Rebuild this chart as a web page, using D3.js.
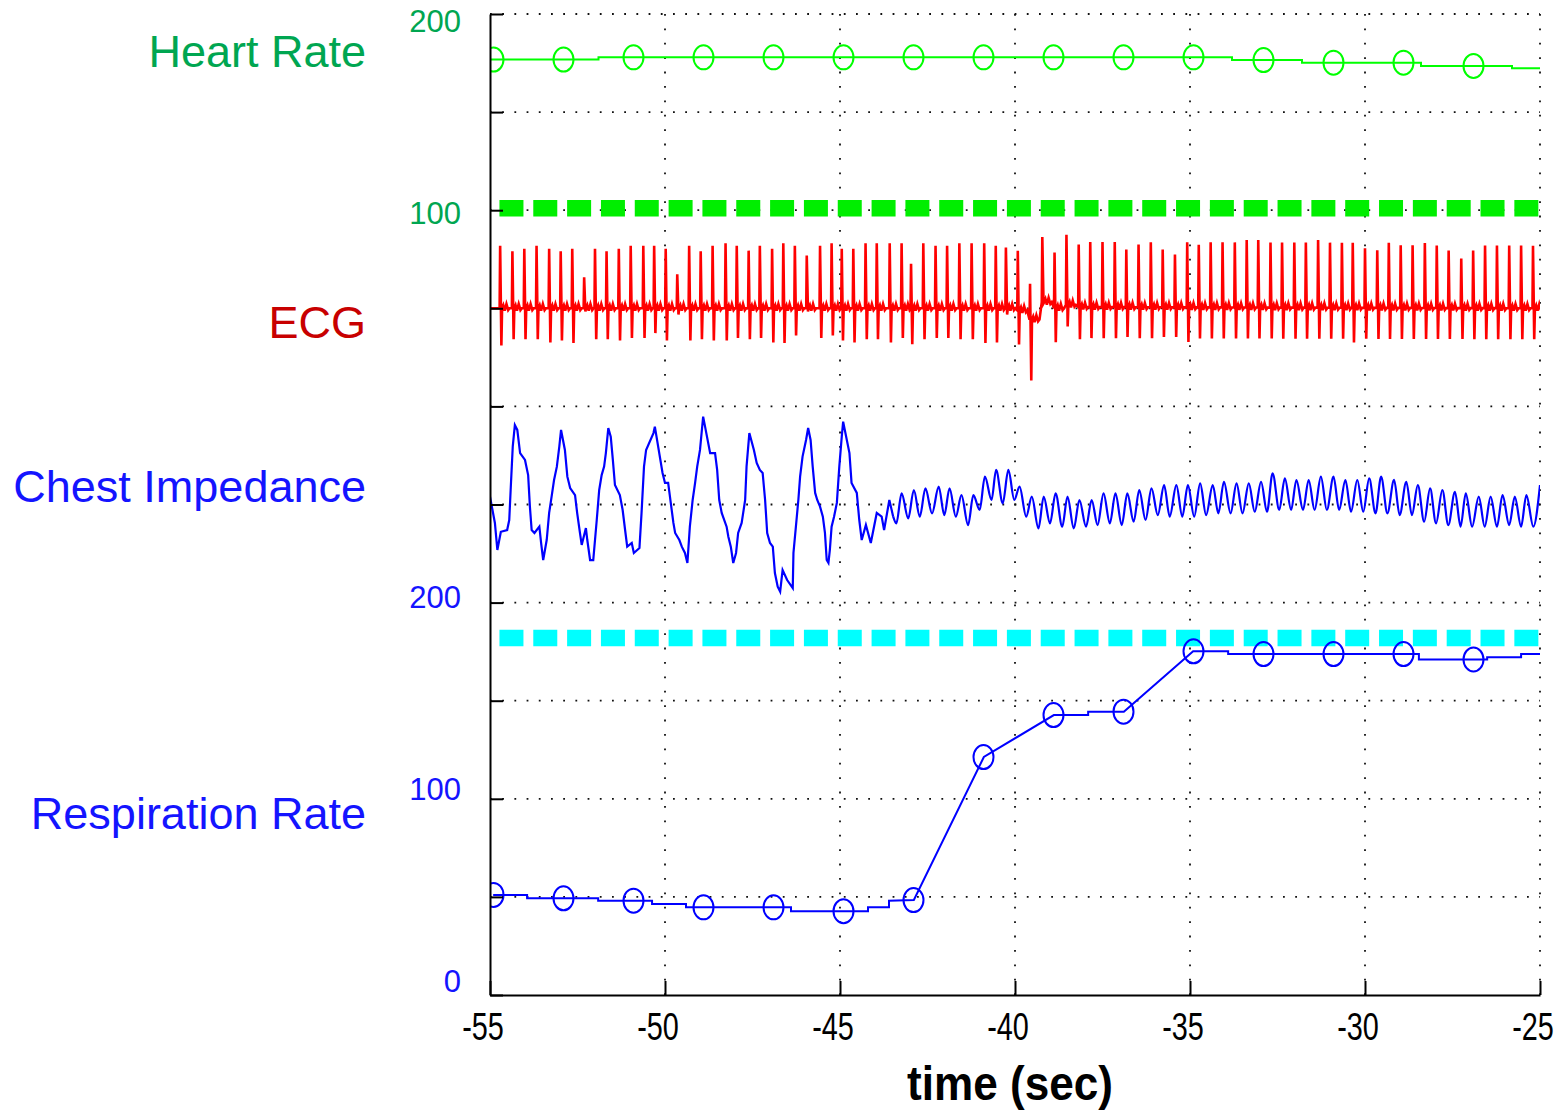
<!DOCTYPE html>
<html>
<head>
<meta charset="utf-8">
<script src="https://cdn.jsdelivr.net/npm/d3@7"></script>
<style>
  body { margin: 0; background: #fff; }
  text { font-family: "Liberation Sans", Arial, Helvetica, sans-serif; }
</style>
</head>
<body>
<div id="chart"></div>
<script>
// ---- data ----
var bandNames = ['Heart Rate', 'ECG', 'Chest Impedance', 'Respiration Rate']
var timeTicks = [-55, -50, -45, -40, -35, -30, -25]
var hrTicks = [100, 200]
var rrTicks = [0, 100, 200]

// trend samples every 2 s (circles)
var sampleTimes = [-54.9, -52.9, -50.9, -48.9, -46.9, -44.9, -42.9, -40.9, -38.9, -36.9, -34.9, -32.9, -30.9, -28.9, -26.9]
var hrSamples = [176.8, 176.8, 177.9, 177.9, 177.9, 177.9, 177.9, 177.9, 177.9, 177.9, 177.9, 176.5, 175.2, 175.2, 173.5]
var rrSamples = [51.0, 49.3, 48.1, 44.7, 44.7, 42.7, 48.4, 121.3, 142.7, 144.4, 175.2, 173.8, 173.8, 173.8, 171.0]

// heart rate trace (steps)
var hrLineTimes = [-55, -51.9, -33.8, -31.8, -28.4, -25.8, -25]
var hrLineValues = [176.8, 177.9, 176.5, 175.2, 173.5, 172.3, 172.3]
var hrThreshold = 101

// respiration rate trace
var rrLineTimes = [-54.91, -53.94, -53.94, -51.91, -51.91, -50.37, -50.37, -49.40, -49.40, -46.40, -46.40, -44.20, -44.20, -43.60, -43.60, -42.89,
  -40.89, -38.89, -37.91, -37.91, -36.89, -34.91, -33.91, -33.91, -28.46, -28.46, -26.51, -26.51, -25.54, -25.54, -25.00]
var rrLineValues = [51.0, 51.0, 49.3, 49.3, 48.1, 48.1, 46.4, 46.4, 44.7, 44.7, 42.7, 42.7, 44.7, 44.7, 48.1, 48.4,
  121.3, 142.7, 142.7, 144.4, 144.4, 175.2, 175.2, 173.8, 173.8, 171.0, 171.0, 172.1, 172.1, 173.8, 173.8]
var rrThreshold = 182

// ECG: R-wave times (s), R and S amplitudes (mV)
var ecgBeatTimes = [
  -54.71, -54.36, -54.02, -53.67, -53.31, -52.98, -52.65, -52.31, -52.00, -51.67,
  -51.32, -50.98, -50.62, -50.31, -49.98, -49.65, -49.31, -48.98, -48.64, -48.27,
  -47.95, -47.61, -47.29, -46.94, -46.62, -46.29, -45.95, -45.57, -45.24, -44.95,
  -44.62, -44.27, -43.95, -43.58, -43.24, -42.97, -42.62, -42.27, -41.94, -41.59,
  -41.24, -40.88, -40.55, -40.26, -39.92, -39.57, -39.22, -38.87, -38.53, -38.18,
  -37.85, -37.50, -37.15, -36.82, -36.47, -36.12, -35.78, -35.43, -35.08, -34.75,
  -34.41, -34.07, -33.72, -33.38, -33.05, -32.70, -32.37, -32.02, -31.69, -31.34,
  -31.00, -30.66, -30.35, -30.00, -29.65, -29.32, -28.98, -28.64, -28.29, -27.95,
  -27.61, -27.25, -26.91, -26.57, -26.23, -25.88, -25.54, -25.20]
var ecgPeaks = [
  1.01, 0.92, 0.96, 1.01, 0.96, 0.92, 0.96, 0.50, 0.96, 0.92,
  0.96, 1.01, 1.01, 1.01, 0.96, 0.55, 1.01, 0.92, 1.01, 1.05,
  1.01, 0.93, 1.01, 0.96, 1.05, 1.01, 0.85, 1.01, 1.05, 0.96,
  0.96, 1.05, 1.05, 1.05, 1.05, 0.72, 1.05, 1.01, 1.01, 1.05,
  1.05, 1.05, 1.01, 0.98, 0.96, 0.58, 1.05, 0.90, 1.13, 1.01,
  1.05, 1.05, 1.05, 0.93, 1.01, 1.05, 0.93, 0.85, 1.05, 1.01,
  1.05, 1.05, 1.05, 1.09, 1.09, 1.05, 1.05, 1.05, 1.05, 1.09,
  1.05, 1.05, 1.05, 0.96, 0.93, 1.05, 1.01, 1.01, 1.05, 1.01,
  0.93, 0.80, 0.93, 1.01, 1.01, 1.01, 1.01, 1.01]
var ecgTroughs = [
  -0.60, -0.50, -0.50, -0.50, -0.55, -0.52, -0.56, -0.05, -0.50, -0.50,
  -0.52, -0.48, -0.48, -0.40, -0.52, -0.10, -0.52, -0.50, -0.52, -0.52,
  -0.48, -0.50, -0.48, -0.55, -0.56, -0.44, -0.05, -0.48, -0.44, -0.52,
  -0.55, -0.50, -0.50, -0.55, -0.48, -0.58, -0.50, -0.48, -0.48, -0.50,
  -0.50, -0.56, -0.55, -0.10, -0.55, -0.98, -0.02, -0.55, -0.35, -0.52,
  -0.50, -0.50, -0.50, -0.48, -0.50, -0.50, -0.48, -0.48, -0.56, -0.50,
  -0.50, -0.50, -0.50, -0.50, -0.50, -0.50, -0.50, -0.50, -0.50, -0.50,
  -0.50, -0.50, -0.56, -0.50, -0.50, -0.50, -0.50, -0.50, -0.50, -0.50,
  -0.50, -0.50, -0.50, -0.50, -0.50, -0.50, -0.50, -0.50]
// baseline wander (mV) around the artefact near -39.5 s
var ecgBaseTimes = [-55, -39.95, -39.75, -39.62, -39.45, -38.95, -38.88, -38.5, -38.3, -25]
var ecgBaseValues = [0, 0, -0.22, -0.3, 0.1, 0.1, 0, 0.06, 0.02, 0]

// chest impedance (arbitrary units around band centre)
var impTimes = [
  -55.00, -54.86, -54.79, -54.69, -54.51, -54.45, -54.41, -54.35, -54.29, -54.22, -54.14, -54.00, -53.91, -53.86, -53.81, -53.73,
  -53.59, -53.54, -53.48, -53.38, -53.31, -53.24, -53.17, -53.09, -53.02, -52.97, -52.86, -52.79, -52.71, -52.57, -52.51, -52.43,
  -52.38, -52.26, -52.22, -52.14, -52.05, -51.95, -51.88, -51.81, -51.74, -51.69, -51.62, -51.55, -51.49, -51.43, -51.29, -51.21,
  -51.14, -51.08, -50.95, -50.89, -50.73, -50.67, -50.60, -50.54, -50.33, -50.29, -50.07, -50.00, -49.91, -49.76, -49.71, -49.59,
  -49.52, -49.43, -49.36, -49.29, -49.21, -49.14, -49.08, -49.00, -48.91, -48.71, -48.57, -48.51, -48.45, -48.38, -48.24, -48.19,
  -48.12, -48.05, -47.97, -47.91, -47.81, -47.71, -47.67, -47.59, -47.46, -47.38, -47.29, -47.21, -47.14, -47.08, -47.00, -46.92,
  -46.86, -46.78, -46.71, -46.64, -46.51, -46.35, -46.33, -46.26, -46.19, -46.14, -46.07, -45.97, -45.91, -45.84, -45.78, -45.71,
  -45.65, -45.57, -45.49, -45.43, -45.38, -45.33, -45.29, -45.24, -45.17, -45.09, -45.02, -44.95, -44.91, -44.73, -44.67, -44.52,
  -44.45, -44.38, -44.26, -44.12, -43.95, -43.81, -43.74, -43.59, -43.48,
  -43.39, -43.24, -43.05, -42.89, -42.72, -42.56, -42.37, -42.18, -42.02, -41.87, -41.69, -41.53, -41.34, -41.19, -41.01, -40.86,
  -40.67, -40.54, -40.35, -40.19, -40.02, -39.87, -39.68, -39.52, -39.33, -39.18, -39.00, -38.84, -38.65, -38.50, -38.32, -38.16,
  -37.97, -37.81, -37.64, -37.47, -37.29, -37.13, -36.95, -36.79, -36.61, -36.45, -36.27, -36.10, -35.92, -35.74, -35.58, -35.39,
  -35.22, -35.06, -34.88, -34.71, -34.54, -34.35, -34.19, -34.03, -33.84, -33.67, -33.50, -33.32, -33.15, -32.97, -32.80, -32.64,
  -32.45, -32.29, -32.11, -31.96, -31.77, -31.61, -31.44, -31.26, -31.09, -30.90, -30.74, -30.56, -30.40, -30.22, -30.05, -29.88,
  -29.70, -29.54, -29.36, -29.17, -29.01, -28.82, -28.66, -28.49, -28.31, -28.14, -27.97, -27.79, -27.62, -27.43, -27.27, -27.12,
  -26.94, -26.75, -26.58, -26.41, -26.23, -26.07, -25.88, -25.72, -25.54, -25.39, -25.19, -25.00]
var impValues = [
  4.0, -9.4, -23.2, -13.9, -13.0, -7.9, 7.4, 29.5, 40.5, 38.0, 26.2, 22.7, 15.0, -1.1, -13.0, -14.5,
  -11.3, -19.6, -28.3, -18.1, -4.3, 4.0, 12.5, 19.3, 29.5, 38.0, 27.8, 14.2, 8.4, 4.8, -4.3, -14.5,
  -20.6, -12.0, -18.1, -28.3, -28.3, -7.9, 7.4, 15.0, 19.3, 26.2, 39.0, 34.6, 22.7, 9.9, 4.8, -2.8,
  -13.0, -21.5, -19.6, -24.7, -22.2, -4.3, 19.3, 27.8, 36.4, 39.7, 16.1, 11.0, 11.0, -9.4, -14.5, -18.1,
  -21.5, -24.7, -29.8, -11.3, 2.3, 11.0, 19.3, 27.8, 44.8, 26.2, 26.2, 17.6, 2.3, -4.3, -11.3, -16.4,
  -21.5, -29.8, -24.7, -14.5, -9.4, 2.3, 19.3, 36.4, 27.8, 21.2, 17.6, 16.1, 2.3, -14.5, -19.6, -21.5,
  -34.9, -41.9, -44.4, -33.4, -38.5, -42.6, -24.7, -11.3, 2.3, 14.2, 24.4, 32.9, 39.0, 32.9, 19.3, 5.9,
  2.3, -1.1, -6.2, -14.5, -28.3, -29.8, -23.2, -11.3, -6.2, 0.8, 19.3, 34.6, 42.2, 26.2, 11.0, 5.9,
  -7.9, -18.1, -10.4, -19.6, -4.3, -6.2, -13.0, 2.3, -6.2,
  -9.6, 5.7, -7.1, 7.4, -6.2, 8.2, -4.5, 9.1, -5.4, 8.2, -6.2, 4.8, -10.5, 4.8, -2.8, 14.2,
  2.3, 17.6, 0.6, 17.6, 2.3, 9.1, -6.2, 4.0, -12.2, 4.0, -9.6, 5.7, -11.3, 4.0, -12.2, 2.3,
  -11.3, 2.3, -10.5, 5.7, -9.6, 5.7, -10.5, 5.7, -8.8, 7.4, -7.9, 8.2, -5.4, 9.9, -6.2, 9.9,
  -6.2, 9.9, -6.2, 10.8, -5.4, 9.9, -4.5, 11.6, -4.5, 10.8, -4.5, 10.8, -3.7, 11.6, -3.7, 15.9,
  -2.8, 13.3, -2.8, 12.5, -2.8, 12.5, -2.8, 14.2, -2.8, 14.2, -2.8, 12.5, -3.7, 12.5, -3.7, 13.3,
  -4.5, 14.2, -4.5, 12.5, -5.4, 11.6, -5.4, 9.9, -8.8, 8.2, -9.6, 7.4, -10.5, 6.5, -11.3, 5.7,
  -11.3, 4.0, -11.3, 4.0, -11.3, 4.8, -10.5, 4.0, -11.3, 4.8, -11.3, 9.9]
var impFastStart = -43.48   // from here the trace is the fast cardiac ripple

// ---- layout ----
var W = 1559
var H = 1116
var GREEN = '#00ff00'
var GREEN_TEXT = '#00a651'
var BLUE = '#0000ff'
var BLUE_TEXT = '#1414ff'
var RED = '#ff0000'
var RED_TEXT = '#c80000'
var CYAN = '#00ffff'

var HR_OFFSET = 300   // heart rate band sits on top of the shared axis
var ECG_CENTER = 350
var ECG_GAIN = 31.6
var IMP_CENTER = 250

var svg = d3.select('#chart').append('svg')
  .attr('width', W)
  .attr('height', H)

var x = d3.scaleLinear().domain([-55, -25]).range([490, 1540])
var y = d3.scaleLinear().domain([0, 500]).range([995, 14])
var labelY = d3.scaleLinear().domain([0, 500]).range([981, 21])

svg.append('clipPath').attr('id', 'plot')
  .append('rect').attr('x', 490).attr('y', 0).attr('width', 1050).attr('height', 995)

makeGrid()
makeThreshold(y(HR_OFFSET + hrThreshold), '#00ee00')
makeThreshold(y(rrThreshold), CYAN)

var plot = svg.append('g').attr('clip-path', 'url(#plot)')

// ECG
var ecgBase = d3.scaleLinear().domain(ecgBaseTimes).range(ecgBaseValues)
var ecgPts = [[-55, ecgBase(-55)]]
ecgBeatTimes.forEach(function (t, i) {
  var b = ecgBase(t)
  ecgPts.push([t - 0.015, b], [t, b + ecgPeaks[i]], [t + 0.035, b + ecgTroughs[i]], [t + 0.055, b],
    [t + 0.09, b + 0.05], [t + 0.13, b - 0.04], [t + 0.18, b + 0.07], [t + 0.23, b - 0.03], [t + 0.27, b])
})
ecgPts.push([-25, ecgBase(-25)])
plot.append('path')
  .attr('d', d3.line()
    .x(function (d) { return x(d[0]) })
    .y(function (d) { return y(ECG_CENTER + d[1] * ECG_GAIN) })(ecgPts))
  .attr('fill', 'none').attr('stroke', RED).attr('stroke-width', 2.6)

// chest impedance: slow breathing part as a line, ripple part smoothed
var imp = impTimes.map(function (t, i) { return [t, impValues[i]] })
var impLine = d3.line()
  .x(function (d) { return x(d[0]) })
  .y(function (d) { return y(IMP_CENTER + d[1]) })
plot.append('path')
  .attr('d', impLine(imp.filter(function (d) { return d[0] <= impFastStart })))
  .attr('fill', 'none').attr('stroke', BLUE).attr('stroke-width', 2.2)
plot.append('path')
  .attr('d', impLine.curve(d3.curveMonotoneX)(imp.filter(function (d) { return d[0] >= impFastStart })))
  .attr('fill', 'none').attr('stroke', BLUE).attr('stroke-width', 2.2)

// heart rate trend
plot.append('path')
  .attr('d', d3.line()
    .curve(d3.curveStepAfter)
    .x(function (d, i) { return x(hrLineTimes[i]) })
    .y(function (d) { return y(HR_OFFSET + d) })(hrLineValues))
  .attr('fill', 'none').attr('stroke', GREEN).attr('stroke-width', 2)
makeMarkers(plot, hrSamples.map(function (v) { return HR_OFFSET + v }), GREEN)

// respiration rate trend
plot.append('path')
  .attr('d', d3.line()
    .x(function (d, i) { return x(rrLineTimes[i]) })
    .y(function (d) { return y(d) })(rrLineValues))
  .attr('fill', 'none').attr('stroke', BLUE).attr('stroke-width', 2)
makeMarkers(plot, rrSamples, BLUE)

makeAxes()
makeLabels()

function makeGrid() {
  var g = svg.append('g').attr('stroke', '#111').attr('stroke-width', 1.8)
  g.selectAll('.hgrid').data(y.ticks(10).filter(function (d) { return d > 0 }))
    .enter().append('line')
    .attr('x1', 490).attr('x2', 1540)
    .attr('y1', function (d) { return y(d) }).attr('y2', function (d) { return y(d) })
    .attr('stroke-dasharray', '1.8,10.4')
  g.selectAll('.vgrid').data(timeTicks.slice(1))
    .enter().append('line')
    .attr('x1', function (d) { return x(d) }).attr('x2', function (d) { return x(d) })
    .attr('y1', 14).attr('y2', 995)
    .attr('stroke-dasharray', '1.8,12.6')
}

function makeThreshold(py, colour) {
  svg.append('line')
    .attr('x1', x(-54.73)).attr('x2', x(-25))
    .attr('y1', py).attr('y2', py)
    .attr('stroke', colour)
    .attr('stroke-width', 16.5)
    .attr('stroke-dasharray', '24,9.83')
}

function makeMarkers(g, values, colour) {
  g.selectAll(null).data(values).enter()
    .append('ellipse')
    .attr('cx', function (d, i) { return x(sampleTimes[i]) })
    .attr('cy', function (d) { return y(d) })
    .attr('rx', 10)
    .attr('ry', 12)
    .attr('fill', 'none')
    .attr('stroke', colour)
    .attr('stroke-width', 2)
}

function makeAxes() {
  var left = svg.append('g').attr('transform', 'translate(490,0)')
    .call(d3.axisLeft(y).tickValues(y.ticks(10)).tickSize(-13).tickSizeOuter(0).tickFormat(''))
  var bottom = svg.append('g').attr('transform', 'translate(0,995)')
    .call(d3.axisBottom(x).tickValues(timeTicks).tickSize(-14).tickSizeOuter(0).tickFormat(''))
  left.selectAll('path, line').attr('stroke', '#000').attr('stroke-width', 2)
  bottom.selectAll('path, line').attr('stroke', '#000').attr('stroke-width', 2)

  // time labels, narrow face like the original
  svg.selectAll('.xlab').data(timeTicks).enter()
    .append('text')
    .attr('transform', function (d) { return 'translate(' + (x(d) - 7) + ',1040) scale(0.74,1)' })
    .attr('text-anchor', 'middle')
    .attr('font-size', 39)
    .attr('fill', '#000')
    .text(function (d) { return d })

  svg.append('text')
    .attr('transform', 'translate(1010,1100) scale(0.9,1)')
    .attr('text-anchor', 'middle')
    .attr('font-size', 49)
    .attr('font-weight', 'bold')
    .attr('fill', '#000')
    .text('time (sec)')

  // band tick labels
  svg.selectAll('.hrlab').data(hrTicks).enter()
    .append('text')
    .attr('x', 461).attr('y', function (d) { return labelY(HR_OFFSET + d) + 11 })
    .attr('text-anchor', 'end').attr('font-size', 31).attr('fill', GREEN_TEXT)
    .text(function (d) { return d })
  svg.selectAll('.rrlab').data(rrTicks).enter()
    .append('text')
    .attr('x', 461).attr('y', function (d) { return labelY(d) + 11 })
    .attr('text-anchor', 'end').attr('font-size', 31).attr('fill', BLUE_TEXT)
    .text(function (d) { return d })
}

function makeLabels() {
  var layout = [
    { colour: GREEN_TEXT, y: 67 },
    { colour: RED_TEXT, y: 338 },
    { colour: BLUE_TEXT, y: 502 },
    { colour: BLUE_TEXT, y: 829 }
  ]
  svg.selectAll('.band').data(bandNames).enter()
    .append('text')
    .attr('x', 366)
    .attr('y', function (d, i) { return layout[i].y })
    .attr('text-anchor', 'end')
    .attr('font-size', 45)
    .attr('fill', function (d, i) { return layout[i].colour })
    .text(function (d) { return d })
}
</script>
</body>
</html>
